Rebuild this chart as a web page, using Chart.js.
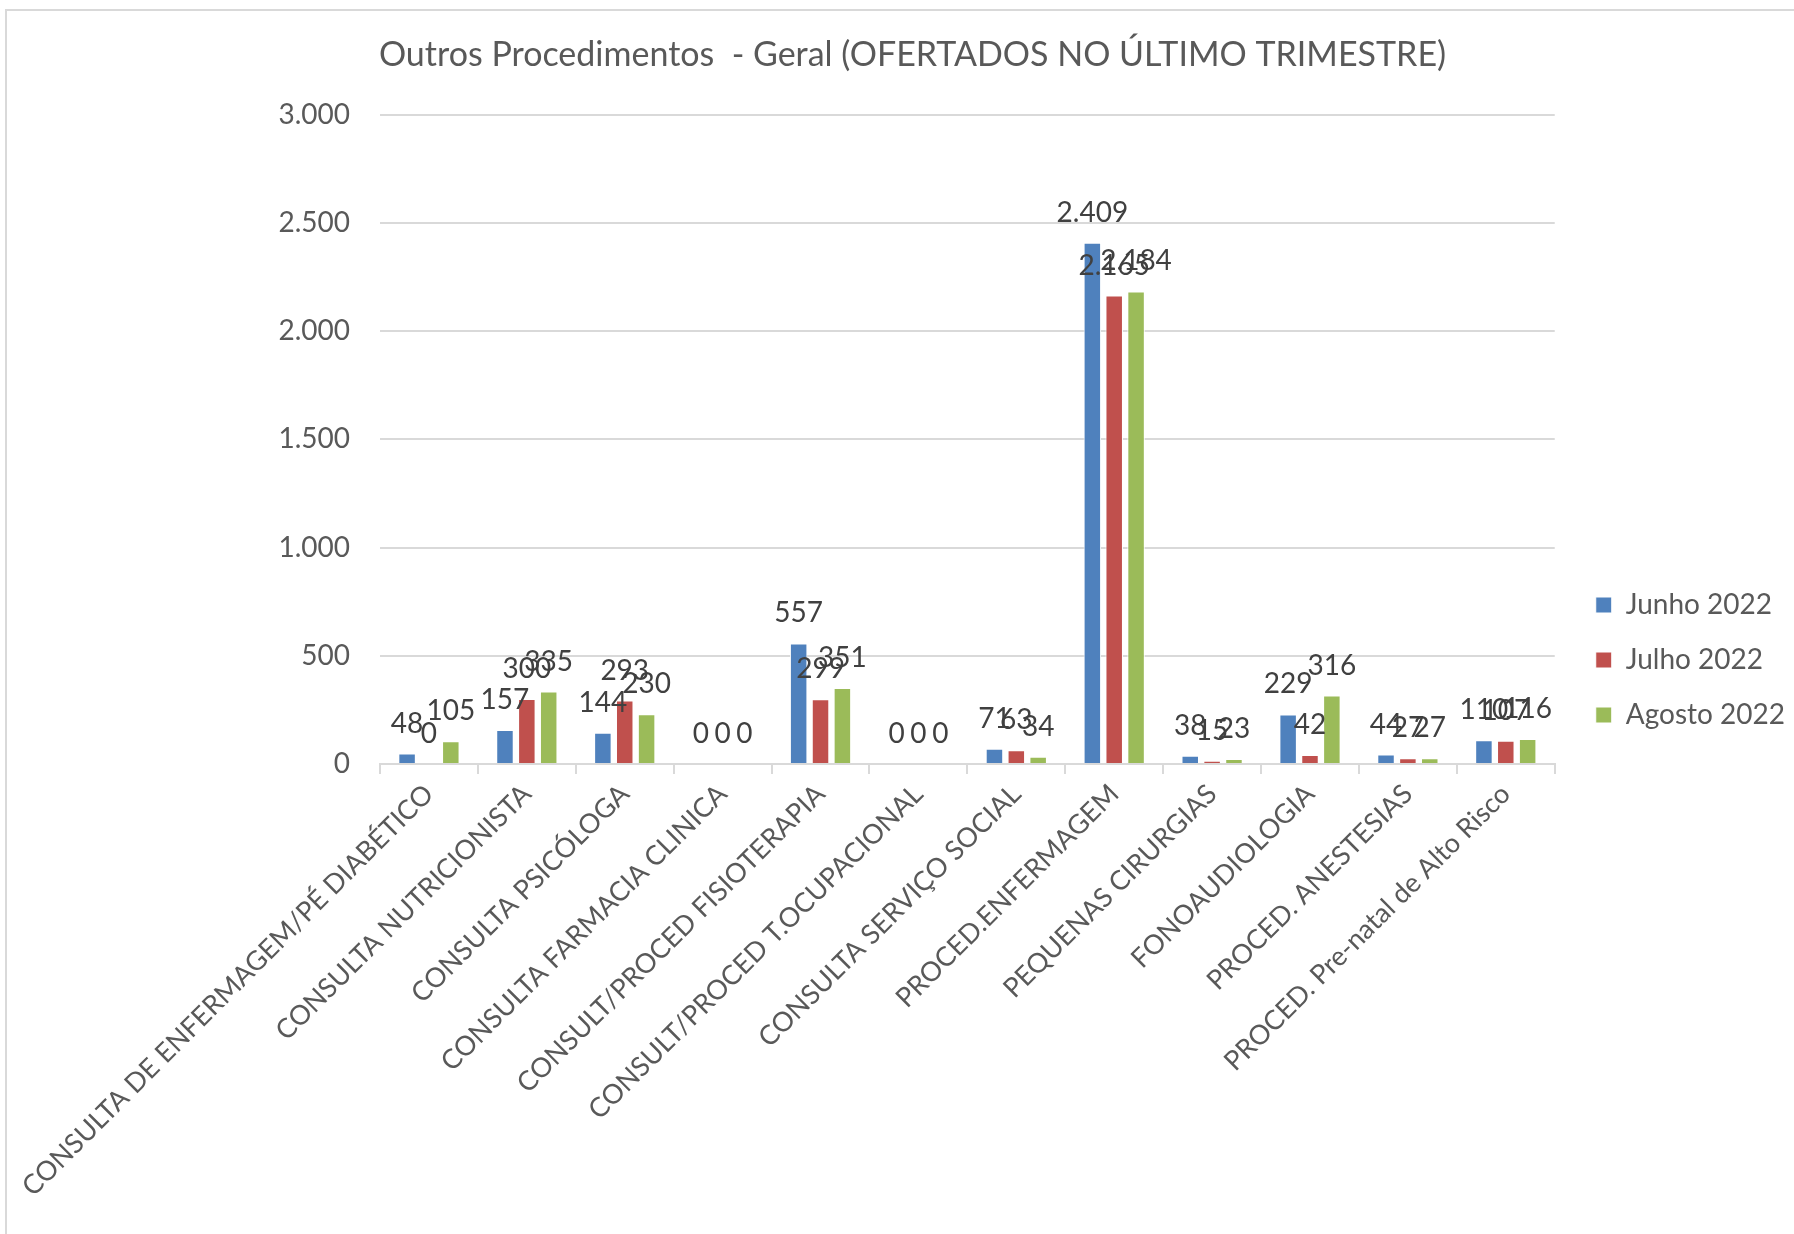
<!DOCTYPE html>
<html>
<head>
<meta charset="utf-8">
<script src="https://cdn.jsdelivr.net/npm/chart.js@4.4.1/dist/chart.umd.min.js"></script>
<style>
    html, body { margin: 0; padding: 0; background: #fff; }
    #moldura {
        position: absolute; left: 5px; top: 9px; width: 1800px; height: 1240px;
        border-top: 2px solid #d9d9d9; border-left: 2px solid #d9d9d9;
    }
    #grafico { position: absolute; left: 0; top: 0; }
</style>
</head>
<body>
<div id="moldura"></div>
<canvas id="grafico" width="1794" height="1234"></canvas>
<script>
const procedimentos = [
    'CONSULTA DE ENFERMAGEM/PÉ DIABÉTICO',
    'CONSULTA NUTRICIONISTA',
    'CONSULTA PSICÓLOGA',
    'CONSULTA FARMACIA CLINICA',
    'CONSULT/PROCED FISIOTERAPIA',
    'CONSULT/PROCED T.OCUPACIONAL',
    'CONSULTA SERVIÇO SOCIAL',
    'PROCED.ENFERMAGEM',
    'PEQUENAS CIRURGIAS',
    'FONOAUDIOLOGIA',
    'PROCED. ANESTESIAS',
    'PROCED. Pre-natal de Alto Risco'
];
const junho2022 = [48, 157, 144, 0, 557, 0, 71, 2409, 38, 229, 44, 110];
const julho2022 = [0, 300, 293, 0, 299, 0, 63, 2165, 15, 42, 27, 107];
const agosto2022 = [105, 335, 230, 0, 351, 0, 34, 2184, 23, 316, 27, 116];

const fonte = 'Lato, "Open Sans", sans-serif';
const formatar = (v) => v.toLocaleString('pt-BR');

// escreve o valor em cima de cada barra
const rotulosBarras = {
    id: 'rotulosBarras',
    afterDatasetsDraw(chart) {
        const ctx = chart.ctx;
        ctx.save();
        ctx.font = '28px ' + fonte;
        ctx.fillStyle = '#404040';
        ctx.textAlign = 'center';
        ctx.textBaseline = 'middle';
        chart.data.datasets.forEach((ds, i) => {
            chart.getDatasetMeta(i).data.forEach((barra, j) => {
                ctx.fillText(formatar(ds.data[j]), barra.x, barra.y - 30);
            });
        });
        ctx.restore();
    }
};

// empurra a legenda para baixo/direita e o titulo um pouco para a direita
const ajusteLayout = {
    id: 'ajusteLayout',
    afterLayout(chart) {
        const leg = chart.legend;
        leg.left += 14; leg.right += 14;
        leg.top += 43; leg.bottom += 43;
        const tit = chart.titleBlock;
        tit.left += 22; tit.right += 22;
    }
};

const graficoOutros = document.getElementById('grafico');
new Chart(graficoOutros, {
    type: 'bar',
    data: {
        labels: procedimentos,
        datasets: [
            { label: 'Junho 2022', data: junho2022, backgroundColor: '#4f81bd' },
            { label: 'Julho 2022', data: julho2022, backgroundColor: '#c0504d' },
            { label: 'Agosto 2022', data: agosto2022, backgroundColor: '#9bbb59' }
        ]
    },
    options: {
        responsive: false,
        animation: false,
        layout: { padding: { left: 0, right: 13, top: 0, bottom: 0 } },
        datasets: {
            bar: {
                categoryPercentage: 0.67,
                barPercentage: 0.8,
                borderColor: '#ffffff',
                borderWidth: 1
            }
        },
        scales: {
            y: {
                min: 0,
                max: 3000,
                ticks: {
                    stepSize: 500,
                    color: '#595959',
                    font: { family: fonte, size: 28 },
                    padding: 30,
                    callback: (v) => formatar(v)
                },
                grid: { color: '#d9d9d9', lineWidth: 2, drawTicks: false },
                border: { display: false },
                afterFit: (escala) => { escala.width = 380; }
            },
            x: {
                ticks: {
                    color: '#595959',
                    font: { family: fonte, size: 27 },
                    maxRotation: 45,
                    minRotation: 45,
                    autoSkip: false,
                    padding: 4
                },
                grid: {
                    drawOnChartArea: false,
                    color: '#d9d9d9',
                    lineWidth: 2,
                    tickLength: 10
                },
                border: { color: '#d9d9d9', width: 2 },
                afterFit: (escala) => {
                    escala.height = 470;
                    escala.paddingLeft = 0;
                    escala.paddingRight = 0;
                }
            }
        },
        plugins: {
            title: {
                display: true,
                text: 'Outros Procedimentos  - Geral (OFERTADOS NO ÚLTIMO TRIMESTRE)',
                color: '#595959',
                font: { family: fonte, size: 34, weight: 'normal' },
                padding: { top: 35, bottom: 39 }
            },
            legend: {
                position: 'right',
                labels: {
                    color: '#595959',
                    font: { family: fonte, size: 28 },
                    boxWidth: 16,
                    boxHeight: 16,
                    padding: 27
                }
            },
            tooltip: { enabled: false }
        }
    },
    plugins: [rotulosBarras, ajusteLayout]
});
</script>
</body>
</html>
